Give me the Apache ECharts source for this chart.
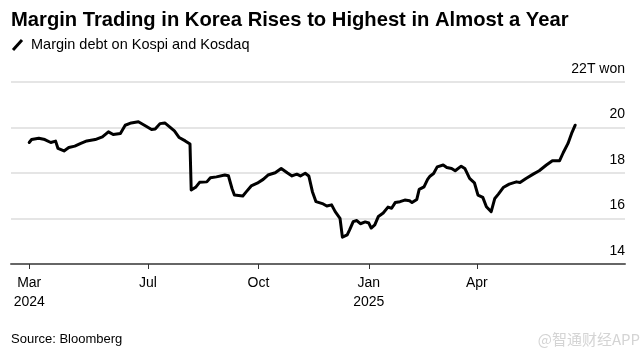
<!DOCTYPE html>
<html>
<head>
<meta charset="utf-8">
<script src="https://cdn.jsdelivr.net/npm/echarts@6/dist/echarts.min.js"></script>
<style>
  html, body { margin: 0; padding: 0; background: #fff; }
  #chart { width: 644px; height: 354px; }
</style>
</head>
<body>
<div id="chart"></div>
<script>
// margin debt on Kospi + Kosdaq, trillion won
const dates = [
  '2024-03-24', '2024-03-26', '2024-04-01', '2024-04-06', '2024-04-11', '2024-04-15', '2024-04-17',
  '2024-04-22', '2024-04-26', '2024-05-01', '2024-05-06', '2024-05-07', '2024-05-11', '2024-05-18',
  '2024-05-24', '2024-05-29', '2024-06-02', '2024-06-08', '2024-06-12', '2024-06-17', '2024-06-23',
  '2024-06-28', '2024-07-04', '2024-07-07', '2024-07-11', '2024-07-15', '2024-07-19', '2024-07-23',
  '2024-07-27', '2024-08-01', '2024-08-05', '2024-08-06', '2024-08-10', '2024-08-13', '2024-08-19',
  '2024-08-22', '2024-08-27', '2024-09-03', '2024-09-06', '2024-09-09', '2024-09-11', '2024-09-18',
  '2024-09-21', '2024-09-25', '2024-09-30', '2024-10-05', '2024-10-09', '2024-10-15', '2024-10-20',
  '2024-10-25', '2024-10-29', '2024-11-02', '2024-11-05', '2024-11-09', '2024-11-12', '2024-11-15',
  '2024-11-18', '2024-11-24', '2024-11-27', '2024-12-01', '2024-12-04', '2024-12-08', '2024-12-10',
  '2024-12-14', '2024-12-16', '2024-12-19', '2024-12-22', '2024-12-25', '2024-12-29', '2025-01-01',
  '2025-01-03', '2025-01-06', '2025-01-09', '2025-01-13', '2025-01-17', '2025-01-20', '2025-01-23',
  '2025-01-27', '2025-01-31', '2025-02-04', '2025-02-06', '2025-02-10', '2025-02-12', '2025-02-16',
  '2025-02-19', '2025-02-21', '2025-02-24', '2025-02-27', '2025-03-04', '2025-03-07', '2025-03-11',
  '2025-03-14', '2025-03-19', '2025-03-22', '2025-03-26', '2025-03-30', '2025-04-02', '2025-04-06',
  '2025-04-09', '2025-04-13', '2025-04-16', '2025-04-19', '2025-04-23', '2025-04-28', '2025-05-04',
  '2025-05-07', '2025-05-12', '2025-05-18', '2025-05-23', '2025-05-29', '2025-06-03', '2025-06-09',
  '2025-06-12', '2025-06-16', '2025-06-19', '2025-06-22'
];
const marginDebt = [
  19.34, 19.47, 19.53, 19.47, 19.34, 19.40, 19.08,
  18.97, 19.12, 19.18, 19.30, 19.24, 19.41, 19.47,
  19.59, 19.81, 19.69, 19.74, 20.10, 20.20, 20.25,
  20.10, 19.91, 19.93, 20.17, 20.20, 20.03, 19.85,
  19.56, 19.41, 19.27, 17.25, 17.39, 17.59, 17.61,
  17.79, 17.83, 17.91, 17.88, 17.32, 17.03, 16.99,
  17.18, 17.43, 17.55, 17.72, 17.91, 18.01, 18.20,
  18.01, 17.87, 17.95, 17.87, 17.99, 17.87, 17.18,
  16.74, 16.64, 16.55, 16.60, 16.30, 16.01, 15.18,
  15.28, 15.50, 15.86, 15.91, 15.77, 15.85, 15.80,
  15.58, 15.72, 16.09, 16.24, 16.50, 16.45, 16.70,
  16.74, 16.81, 16.78, 16.70, 16.84, 17.28, 17.39,
  17.72, 17.86, 17.98, 18.27, 18.35, 18.24, 18.20,
  18.10, 18.30, 18.20, 17.76, 17.57, 17.03, 16.93,
  16.52, 16.30, 16.88, 17.07, 17.36, 17.51, 17.61,
  17.58, 17.76, 17.95, 18.10, 18.35, 18.54, 18.54,
  18.89, 19.30, 19.74, 20.10
];

// x axis ticks
const tickDates = ['2024-03-24', '2024-07-01', '2024-10-01', '2025-01-01', '2025-04-01'];
const tickLabels = ['Mar\n2024', 'Jul', 'Oct', 'Jan\n2025', 'Apr'];
const yTicks = [14, 16, 18, 20, 22];

const font = "'Liberation Sans', Arial, Helvetica, sans-serif";
const chart = echarts.init(document.getElementById('chart'), null, { renderer: 'canvas' });

// dates -> UTC milliseconds on a plain value axis
const ms = d => Date.parse(d + 'T00:00:00Z');
const tickTimes = tickDates.map(ms);

const option = {
  animation: false,
  backgroundColor: '#fff',
  textStyle: { fontFamily: font },
  grid: { left: 11, right: 19, top: 82, bottom: 90, containLabel: false },
  graphic: [
    {
      type: 'text', left: 11, top: 10,
      style: { text: 'Margin Trading in Korea Rises to Highest in Almost a Year', font: 'bold 20.2px ' + font, fill: '#000' }
    },
    {
      type: 'line',
      shape: { x1: 13, y1: 50, x2: 22, y2: 40 },
      style: { stroke: '#000', lineWidth: 3 }
    },
    {
      type: 'text', left: 31, top: 37,
      style: { text: 'Margin debt on Kospi and Kosdaq', font: '14.5px ' + font, fill: '#000' }
    },
    {
      type: 'text', left: 11, top: 333,
      style: { text: 'Source: Bloomberg', font: '13px ' + font, fill: '#000' }
    },
    {
      type: 'text', right: 4, top: 332,
      style: { text: '@智通财经APP', font: "15px 'Noto Sans CJK SC', sans-serif", fill: '#d4d4d4' }
    }
  ],
  xAxis: {
    type: 'value',
    min: Date.parse('2024-03-08T20:00:00Z'),
    max: Date.parse('2025-08-02T12:00:00Z'),
    axisLine: { onZero: false, lineStyle: { color: '#666', width: 2 } },
    axisTick: { show: true, customValues: tickTimes, length: 5, lineStyle: { color: '#333', width: 1 } },
    axisLabel: {
      customValues: tickTimes,
      margin: 10,
      fontSize: 14,
      lineHeight: 19,
      color: '#000',
      fontFamily: font,
      formatter: v => {
        const i = tickTimes.indexOf(v);
        return i >= 0 ? tickLabels[i] : '';
      }
    },
    splitLine: { show: false }
  },
  yAxis: {
    type: 'value',
    position: 'right',
    min: 14,
    max: 22,
    interval: 2,
    axisLine: { show: false },
    axisTick: { show: false },
    axisLabel: {
      inside: true,
      margin: 0,
      verticalAlign: 'bottom',
      padding: [0, 0, 6, 0],
      fontSize: 14,
      color: '#000',
      fontFamily: font,
      formatter: v => (v === yTicks[yTicks.length - 1] ? v + 'T won' : String(v))
    },
    splitLine: { lineStyle: { color: '#dddddd', width: 1.5 } }
  },
  series: [
    {
      type: 'line',
      data: dates.map((d, i) => [ms(d), marginDebt[i]]),
      showSymbol: false,
      lineStyle: { color: '#000', width: 3, join: 'round', cap: 'round' },
      z: 5
    }
  ]
};

chart.setOption(option);
</script>
</body>
</html>
